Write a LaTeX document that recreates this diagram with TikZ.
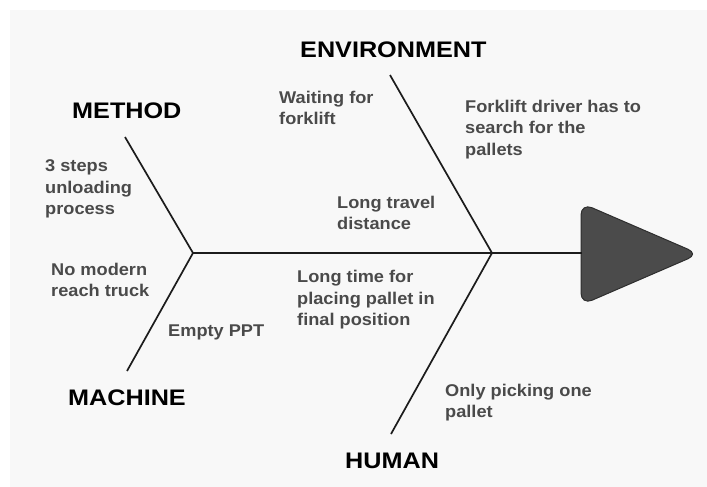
\documentclass[tikz,border=0pt]{standalone}
\usepackage{fontspec}
\setmainfont{Liberation Sans}
\newfontfamily\headfont{Liberation Sans}[FakeStretch=1.12]
\newfontfamily\causefont{Liberation Sans}[FakeStretch=1.07]
\begin{document}
\definecolor{bg}{HTML}{F8F8F8}
\definecolor{bone}{HTML}{1C1C1C}
\definecolor{causetext}{HTML}{4A4A4A}
\definecolor{headfill}{HTML}{4B4B4B}
\definecolor{headline}{HTML}{2E2E2E}
\begin{tikzpicture}[x=1pt,y=-1pt,
  bonestyle/.style={draw=bone,line width=1.7pt},
  category/.style={inner sep=0pt,anchor=base west,text=black,
    font=\headfont\bfseries\fontsize{22.5}{26}\selectfont},
  cause/.style={inner sep=0pt,anchor=north west,align=left,text=causetext,
    font=\causefont\bfseries\fontsize{17}{21.5}\selectfont}]
\useasboundingbox (0,0) rectangle (707,487);
\fill[bg] (10,10) rectangle (707,487);

% skeleton points
\coordinate (jl) at (193,253);
\coordinate (jr) at (492,253);
\coordinate (methodend) at (125,137);
\coordinate (machineend) at (127,371);
\coordinate (envend) at (390,75);
\coordinate (humanend) at (391,434);

% fish head
\filldraw[fill=headfill,draw=headline,line width=1pt,rounded corners=12pt]
  (581,203) -- (699,254) -- (581,305) -- cycle;
\coordinate (head) at (582,253);

% bones
\draw[bonestyle] (jl) -- (head);
\draw[bonestyle] (methodend) -- (jl);
\draw[bonestyle] (machineend) -- (jl);
\draw[bonestyle] (envend) -- (jr);
\draw[bonestyle] (humanend) -- (jr);

% categories
\node[category] (env) at (300,58) {ENVIRONMENT};
\node[category] (method) at (72,118) {METHOD};
\node[category] (machine) at (68,405) {MACHINE};
\node[category] (human) at (345,468) {HUMAN};

% causes
\node[cause] (waiting) at (279,90.8) {Waiting for\\forklift};
\node[cause] (search) at (465,99.8) {Forklift driver has to\\search for the\\pallets};
\node[cause] (steps) at (45,159.8) {3 steps\\unloading\\process};
\node[cause] (reach) at (51,262.8) {No modern\\reach truck};
\node[cause] (ppt) at (168,324.8) {Empty PPT};
\node[cause] (travel) at (337,195.8) {Long travel\\distance};
\node[cause] (placing) at (297,270.3) {Long time for\\placing pallet in\\final position};
\node[cause] (picking) at (445,383.8) {Only picking one\\pallet};
\end{tikzpicture}
\end{document}
